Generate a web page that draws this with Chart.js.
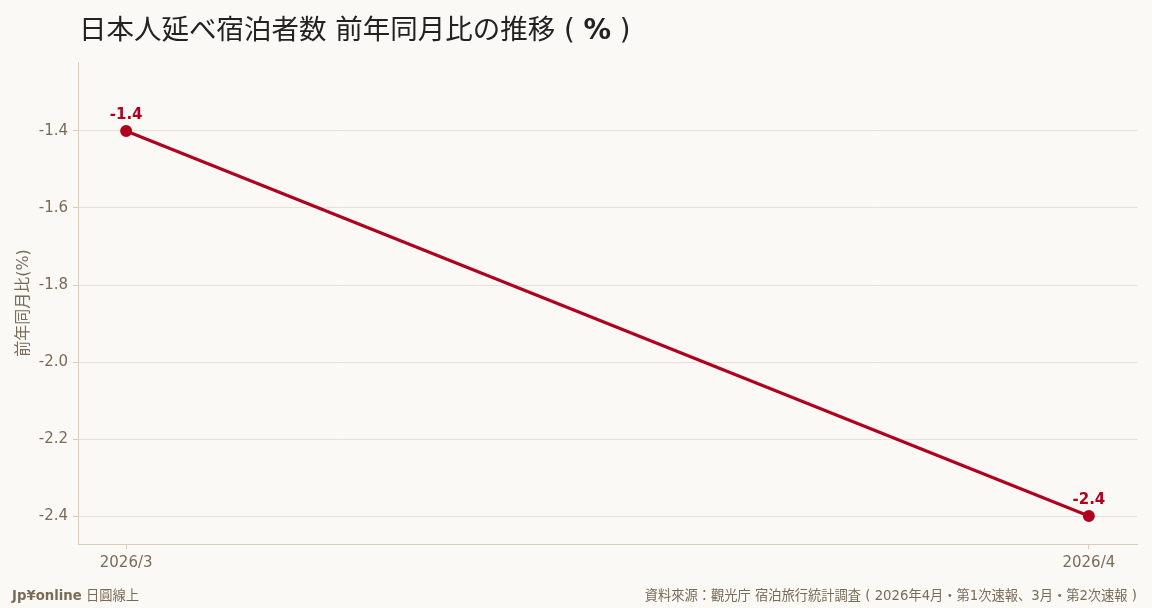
<!DOCTYPE html>
<html lang="ja">
<head>
<meta charset="utf-8">
<script src="https://cdn.jsdelivr.net/npm/chart.js@4/dist/chart.umd.min.js"></script>
<style>
  html, body { margin: 0; padding: 0; background: #faf9f6; }
  body { width: 1152px; height: 608px; position: relative; overflow: hidden;
    font-family: "DejaVu Sans", "Noto Sans CJK JP", sans-serif; }
  #wrap { position: absolute; left: 0; top: 0; width: 1152px; height: 608px; }
  .title { position: absolute; left: 79px; top: 7px; font-size: 27.5px; color: #222; white-space: nowrap;
    font-family: "DejaVu Sans", "Noto Sans CJK JP", sans-serif; }
  .title b { font-weight: 700; }
  .foot { position: absolute; top: 585px; font-size: 13.25px; color: #7a6b55; white-space: nowrap; }
  .foot.left { left: 12px; }
  .foot.right { right: 15px; }
</style>
</head>
<body>
<div id="wrap"><canvas id="chart"></canvas></div>
<div class="title">日本人延べ宿泊者数 前年同月比の推移 ( <b>%</b> )</div>
<div class="foot left"><b>Jp¥online</b> 日圓線上</div>
<div class="foot right">資料來源：觀光庁 宿泊旅行統計調査 ( 2026年4月・第1次速報、3月・第2次速報 )</div>
<script>
const months = ['2026/3', '2026/4'];
const yoyValues = [-1.4, -2.4];
const yTicks = [-2.4, -2.2, -2.0, -1.8, -1.6, -1.4];

const RED = '#b0001e';
const BROWN = '#7a6b57';
const GRID = '#e6e1d6';
const AXIS = '#d6cdbb';

// value labels above each point
const pointLabels = {
  id: 'pointLabels',
  afterDatasetsDraw(chart) {
    const ctx = chart.ctx;
    const meta = chart.getDatasetMeta(0);
    ctx.save();
    ctx.fillStyle = RED;
    ctx.font = 'bold 15px "DejaVu Sans", sans-serif';
    ctx.textAlign = 'center';
    ctx.textBaseline = 'bottom';
    meta.data.forEach((pt, i) => {
      ctx.fillText(yoyValues[i].toFixed(1), pt.x, pt.y - 8);
    });
    ctx.restore();
  },
};

new Chart(document.getElementById('chart'), {
  type: 'line',
  data: {
    datasets: [{
      data: yoyValues.map((v, i) => ({ x: i, y: v })),
      borderColor: RED,
      backgroundColor: RED,
      borderWidth: 3,
      pointRadius: 4.5,
      pointHoverRadius: 4.5,
      tension: 0,
    }],
  },
  options: {
    responsive: true,
    maintainAspectRatio: false,
    animation: false,
    layout: { padding: { left: 0, right: 15, top: 62, bottom: 34 } },
    plugins: { legend: { display: false }, tooltip: { enabled: false } },
    scales: {
      x: {
        type: 'linear',
        min: -0.05,
        max: 1.05,
        afterBuildTicks: scale => { scale.ticks = months.map((_, i) => ({ value: i })); },
        afterFit: scale => { scale.height = 30; },
        ticks: {
          callback: value => months[value],
          color: BROWN,
          font: { size: 15, family: '"DejaVu Sans", sans-serif' },
          padding: 5,
        },
        grid: { display: true, drawOnChartArea: false, drawTicks: true, tickLength: 5, color: AXIS },
        border: { color: AXIS, width: 1 },
      },
      y: {
        min: -2.4727,
        max: -1.2208,
        afterBuildTicks: scale => { scale.ticks = yTicks.map(v => ({ value: v })); },
        afterFit: scale => { scale.width = 78; },
        ticks: {
          callback: value => value.toFixed(1),
          color: BROWN,
          font: { size: 15, family: '"DejaVu Sans", sans-serif' },
          padding: 5,
        },
        grid: { color: GRID, tickLength: 5, tickColor: AXIS },
        border: { color: AXIS, width: 1 },
        title: {
          display: true,
          text: '前年同月比(%)',
          color: BROWN,
          font: { size: 16, family: '"DejaVu Sans", "Noto Sans CJK JP", sans-serif' },
          padding: { top: 14, bottom: 0 },
        },
      },
    },
  },
  plugins: [pointLabels],
});
</script>
</body>
</html>
